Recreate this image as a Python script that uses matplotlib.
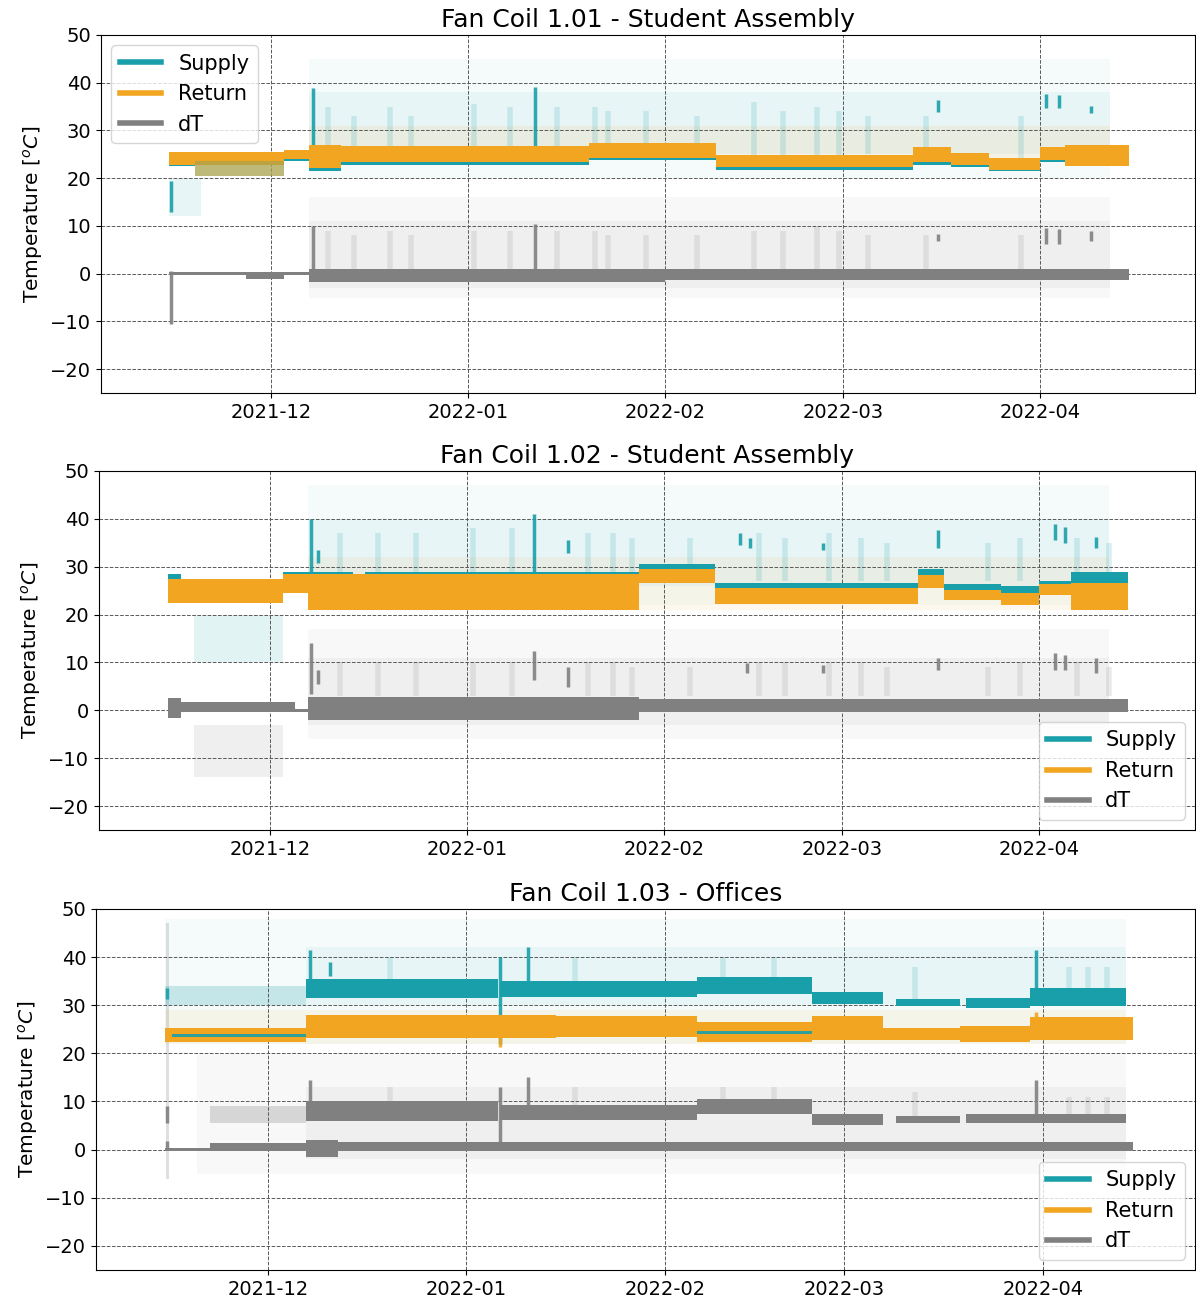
#!/usr/bin/env python3
"""Supply / return / dT temperatures of three fan coils, Nov 2021 - Apr 2022."""

import matplotlib

matplotlib.use("Agg")
import matplotlib.dates as mdates
import matplotlib.pyplot as plt
import pandas as pd
from matplotlib.lines import Line2D

COLORS = {"supply": "#189fa9", "return": "#f2a520", "dT": "#808080"}

# Dense part of each trace: (start, end, low degC, high degC)
fc101_supply = [
    ("2021-11-15", "2021-11-19", 22.5, 25.0),
    ("2021-12-03", "2021-12-07", 23.6, 25.0),
    ("2021-12-07", "2021-12-12", 21.5, 25.5),
    ("2021-12-12", "2022-01-20", 22.8, 25.5),
    ("2022-01-20", "2022-02-09", 23.8, 26.0),
    ("2022-02-09", "2022-03-12", 21.8, 24.0),
    ("2022-03-12", "2022-03-18", 22.8, 25.5),
    ("2022-03-18", "2022-03-24", 22.3, 24.5),
    ("2022-03-24", "2022-04-01", 21.4, 23.5),
    ("2022-04-01", "2022-04-05", 23.3, 25.5),
    ("2022-04-05", "2022-04-15", 23.5, 25.8),
]
fc101_return = [
    ("2021-11-15", "2021-12-03", 22.8, 25.5),
    ("2021-12-03", "2021-12-07", 24.0, 26.0),
    ("2021-12-07", "2021-12-12", 22.2, 27.0),
    ("2021-12-12", "2022-01-20", 23.3, 26.8),
    ("2022-01-20", "2022-02-09", 24.3, 27.3),
    ("2022-02-09", "2022-03-12", 22.3, 24.8),
    ("2022-03-12", "2022-03-18", 23.3, 26.5),
    ("2022-03-18", "2022-03-24", 22.8, 25.3),
    ("2022-03-24", "2022-04-01", 21.8, 24.3),
    ("2022-04-01", "2022-04-05", 23.8, 26.5),
    ("2022-04-05", "2022-04-15", 22.5, 27.0),
]
fc101_dt = [
    ("2021-11-15", "2021-11-27", -0.3, 0.3),
    ("2021-11-27", "2021-12-03", -1.2, 0.4),
    ("2021-12-03", "2021-12-07", -0.3, 0.3),
    ("2021-12-07", "2022-02-01", -1.8, 0.9),
    ("2022-02-01", "2022-04-15", -1.3, 0.9),
]
# Scattered readings: (series, start, end, low, high, alpha)
fc101_haze = [
    ("supply", "2021-11-15", "2021-11-20", 12.0, 20.0, 0.10),
    ("supply", "2021-12-07", "2022-04-12", 20.0, 45.0, 0.04),
    ("supply", "2021-12-07", "2022-04-12", 25.0, 38.0, 0.06),
    ("return", "2021-12-07", "2022-04-12", 24.0, 31.0, 0.10),
    ("dT", "2021-12-07", "2022-04-12", -5.0, 16.0, 0.05),
    ("dT", "2021-12-07", "2022-04-12", -3.0, 11.0, 0.07),
]
# Sparse mixed readings drawn over the bands, in order
fc101_tint = [
    ("supply", "2021-11-19", "2021-12-03", 20.5, 23.5, 0.5),
    ("return", "2021-11-19", "2021-12-03", 20.5, 23.5, 0.5),
]
# Short excursions: (series, time, low, high)
fc101_spikes = [
    ("supply", "2021-11-15 06:00", 13.0, 19.5),
    ("dT", "2021-11-15 06:00", -10.5, 0.5),
    ("supply", "2021-12-07 14:00", 26.0, 38.8),
    ("supply", "2022-01-11 12:00", 26.0, 39.0),
    ("supply", "2022-03-16", 33.8, 36.3),
    ("supply", "2022-04-02", 34.8, 37.7),
    ("supply", "2022-04-04", 34.8, 37.5),
    ("supply", "2022-04-09", 33.7, 35.2),
    ("dT", "2021-12-07 14:00", 1.0, 10.0),
    ("dT", "2022-01-11 12:00", 1.0, 10.5),
    ("dT", "2022-03-16", 6.9, 8.4),
    ("dT", "2022-04-02", 6.3, 9.6),
    ("dT", "2022-04-04", 6.3, 9.4),
    ("dT", "2022-04-09", 6.9, 9.0),
]
# Clusters of scattered readings: (series, time, low, high)
fc101_streaks = [
    ("dT", "2021-12-10", 1.0, 9.0), ("supply", "2021-12-10", 26.0, 35.0),
    ("dT", "2021-12-14", 1.0, 8.0), ("supply", "2021-12-14", 26.0, 33.0),
    ("dT", "2021-12-19 16:00", 1.0, 9.0), ("supply", "2021-12-19 16:00", 26.0, 35.0),
    ("dT", "2021-12-23", 1.0, 8.0), ("supply", "2021-12-23", 26.0, 33.0),
    ("dT", "2022-01-02", 1.0, 9.0), ("supply", "2022-01-02", 26.0, 35.5),
    ("dT", "2022-01-07 14:00", 1.0, 9.0), ("supply", "2022-01-07 14:00", 26.0, 35.0),
    ("dT", "2022-01-15", 1.0, 9.0), ("supply", "2022-01-15", 26.0, 35.0),
    ("dT", "2022-01-21", 1.0, 9.0), ("supply", "2022-01-21", 26.0, 35.0),
    ("dT", "2022-01-23", 1.0, 8.0), ("supply", "2022-01-23", 26.0, 34.0),
    ("dT", "2022-01-29", 1.0, 8.0), ("supply", "2022-01-29", 26.0, 34.0),
    ("dT", "2022-02-06", 1.0, 8.0), ("supply", "2022-02-06", 26.0, 33.0),
    ("dT", "2022-02-15", 1.0, 9.0), ("supply", "2022-02-15", 24.0, 36.0),
    ("dT", "2022-02-19 14:00", 1.0, 9.0), ("supply", "2022-02-19 14:00", 24.0, 34.0),
    ("dT", "2022-02-25", 1.0, 10.0), ("supply", "2022-02-25", 24.0, 35.0),
    ("dT", "2022-02-28 10:00", 1.0, 9.0), ("supply", "2022-02-28 10:00", 24.0, 34.0),
    ("dT", "2022-03-05", 1.0, 8.0), ("supply", "2022-03-05", 25.0, 33.0),
    ("dT", "2022-03-14", 1.0, 8.0), ("supply", "2022-03-14", 25.0, 33.0),
    ("dT", "2022-03-29", 1.0, 8.0), ("supply", "2022-03-29", 24.0, 33.0),
]

fc102_supply = [
    ("2021-11-15", "2021-11-17", 25.5, 28.5),
    ("2021-11-17", "2021-12-03", 25.0, 27.3),
    ("2021-12-03", "2021-12-07", 26.5, 29.0),
    ("2021-12-07", "2021-12-14", 24.0, 29.0),
    ("2021-12-14", "2021-12-16", 23.0, 26.5),
    ("2021-12-16", "2022-01-28", 26.5, 29.0),
    ("2022-01-28", "2022-02-09", 28.0, 30.5),
    ("2022-02-09", "2022-03-13", 24.6, 26.6),
    ("2022-03-13", "2022-03-17", 27.0, 29.5),
    ("2022-03-17", "2022-03-26", 24.6, 26.4),
    ("2022-03-26", "2022-04-01", 24.0, 26.0),
    ("2022-04-01", "2022-04-06", 25.0, 27.0),
    ("2022-04-06", "2022-04-15", 24.5, 28.8),
]
fc102_return = [
    ("2021-11-15", "2021-12-03", 22.5, 27.5),
    ("2021-12-03", "2021-12-07", 24.5, 28.5),
    ("2021-12-07", "2022-01-28", 21.0, 28.5),
    ("2022-01-28", "2022-02-09", 26.5, 29.5),
    ("2022-02-09", "2022-03-13", 22.3, 25.5),
    ("2022-03-13", "2022-03-17", 25.5, 28.3),
    ("2022-03-17", "2022-03-26", 23.0, 25.2),
    ("2022-03-26", "2022-04-01", 22.0, 24.6),
    ("2022-04-01", "2022-04-06", 24.0, 26.3),
    ("2022-04-06", "2022-04-15", 21.0, 26.5),
]
fc102_dt = [
    ("2021-11-15", "2021-11-17", -1.5, 2.5),
    ("2021-11-17", "2021-12-05", -0.3, 1.8),
    ("2021-12-05", "2021-12-07", -0.3, 0.3),
    ("2021-12-07", "2022-01-28", -2.0, 2.8),
    ("2022-01-28", "2022-04-15", -0.3, 2.3),
]
fc102_haze = [
    ("supply", "2021-11-19", "2021-12-03", 10.0, 20.0, 0.12),
    ("dT", "2021-11-19", "2021-12-03", -14.0, -3.0, 0.12),
    ("supply", "2021-12-07", "2022-04-12", 22.0, 47.0, 0.04),
    ("supply", "2021-12-07", "2022-04-12", 26.0, 40.0, 0.06),
    ("return", "2021-12-07", "2022-04-12", 21.0, 32.0, 0.08),
    ("dT", "2021-12-07", "2022-04-12", -6.0, 17.0, 0.05),
    ("dT", "2021-12-07", "2022-04-12", -3.0, 11.0, 0.07),
]
fc102_tint = []
fc102_spikes = [
    ("supply", "2021-12-07 12:00", 29.0, 40.0),
    ("supply", "2021-12-08 12:00", 30.7, 33.4),
    ("supply", "2022-01-11 14:00", 29.0, 41.0),
    ("supply", "2022-01-16 20:00", 32.8, 35.5),
    ("supply", "2022-02-13", 34.5, 37.0),
    ("supply", "2022-02-14 12:00", 34.0, 36.0),
    ("supply", "2022-02-26", 33.5, 35.0),
    ("supply", "2022-03-16", 34.0, 37.6),
    ("supply", "2022-04-03 10:00", 35.5, 39.0),
    ("supply", "2022-04-05", 35.0, 38.2),
    ("supply", "2022-04-10", 34.0, 36.2),
    ("dT", "2021-12-07 12:00", 3.5, 14.0),
    ("dT", "2021-12-08 12:00", 5.6, 8.4),
    ("dT", "2022-01-11 14:00", 6.3, 12.5),
    ("dT", "2022-01-16 20:00", 4.8, 9.0),
    ("dT", "2022-02-14", 7.7, 9.8),
    ("dT", "2022-02-26", 7.7, 9.5),
    ("dT", "2022-03-16", 8.4, 11.0),
    ("dT", "2022-04-03 10:00", 8.4, 12.0),
    ("dT", "2022-04-05", 8.4, 11.5),
    ("dT", "2022-04-10", 7.7, 11.0),
]
fc102_streaks = [
    ("dT", "2021-12-12", 3.0, 10.0), ("supply", "2021-12-12", 29.0, 37.0),
    ("dT", "2021-12-18", 3.0, 10.0), ("supply", "2021-12-18", 29.0, 37.0),
    ("dT", "2021-12-24", 3.0, 10.0), ("supply", "2021-12-24", 29.0, 37.0),
    ("dT", "2022-01-02", 3.0, 10.0), ("supply", "2022-01-02", 29.0, 38.0),
    ("dT", "2022-01-08", 3.0, 10.0), ("supply", "2022-01-08", 29.0, 38.0),
    ("dT", "2022-01-20", 3.0, 10.0), ("supply", "2022-01-20", 29.0, 37.0),
    ("dT", "2022-01-24", 3.0, 10.0), ("supply", "2022-01-24", 29.0, 37.0),
    ("dT", "2022-01-27", 3.0, 9.0), ("supply", "2022-01-27", 29.0, 36.0),
    ("dT", "2022-02-05", 3.0, 9.0), ("supply", "2022-02-05", 30.0, 36.0),
    ("dT", "2022-02-16", 3.0, 10.0), ("supply", "2022-02-16", 27.0, 37.0),
    ("dT", "2022-02-20", 3.0, 10.0), ("supply", "2022-02-20", 27.0, 36.0),
    ("dT", "2022-02-27", 3.0, 10.0), ("supply", "2022-02-27", 27.0, 37.0),
    ("dT", "2022-03-04", 3.0, 10.0), ("supply", "2022-03-04", 27.0, 36.0),
    ("dT", "2022-03-08", 3.0, 9.0), ("supply", "2022-03-08", 27.0, 35.0),
    ("dT", "2022-03-24", 3.0, 9.0), ("supply", "2022-03-24", 27.0, 35.0),
    ("dT", "2022-03-29", 3.0, 10.0), ("supply", "2022-03-29", 27.0, 36.0),
    ("dT", "2022-04-07", 3.0, 10.0), ("supply", "2022-04-07", 27.0, 36.0),
    ("dT", "2022-04-12", 3.0, 9.0), ("supply", "2022-04-12", 27.0, 35.0),
]

fc103_supply = [
    ("2021-12-07", "2022-01-06", 31.5, 35.5),
    ("2022-01-06 06:00", "2022-02-06", 31.8, 35.0),
    ("2022-02-06", "2022-02-24", 32.3, 35.8),
    ("2022-02-24", "2022-03-07", 30.3, 32.8),
    ("2022-03-09", "2022-03-19", 29.8, 31.3),
    ("2022-03-20", "2022-03-30", 29.5, 31.5),
    ("2022-03-30", "2022-04-14", 29.8, 33.5),
]
fc103_return = [
    ("2021-11-15", "2021-12-07", 22.3, 25.3),
    ("2021-12-07", "2022-01-15", 23.2, 28.0),
    ("2022-01-15", "2022-02-06", 23.5, 27.8),
    ("2022-02-06", "2022-02-24", 22.3, 26.6),
    ("2022-02-24", "2022-03-07", 22.8, 27.8),
    ("2022-03-07", "2022-03-19", 22.8, 25.3),
    ("2022-03-19", "2022-03-30", 22.3, 25.6),
    ("2022-03-30", "2022-04-15", 22.8, 27.5),
]
fc103_dt = [
    ("2021-11-15", "2021-11-22", -0.3, 0.3),
    ("2021-11-22", "2021-12-07", -0.2, 1.3),
    ("2021-12-07", "2021-12-12", -1.5, 2.0),
    ("2021-12-12", "2022-04-15", -0.3, 1.6),
    ("2021-12-07", "2022-01-06", 6.0, 10.0),
    ("2022-01-06 06:00", "2022-02-06", 6.2, 9.2),
    ("2022-02-06", "2022-02-24", 7.3, 10.5),
    ("2022-02-24", "2022-03-07", 5.2, 7.3),
    ("2022-03-09", "2022-03-19", 5.5, 7.0),
    ("2022-03-20", "2022-04-14", 5.5, 7.5),
]
fc103_haze = [
    ("dT", "2021-11-15 03:00", "2021-11-15 12:00", -6.0, 47.0, 0.25),
    ("supply", "2021-11-15", "2021-12-07", 30.0, 34.0, 0.22),
    ("dT", "2021-11-22", "2021-12-07", 5.5, 9.0, 0.28),
    ("supply", "2021-11-15", "2022-04-14", 22.0, 48.0, 0.04),
    ("supply", "2021-12-07", "2022-04-14", 30.0, 42.0, 0.06),
    ("return", "2021-11-15", "2022-04-14", 22.0, 29.0, 0.08),
    ("dT", "2021-11-20", "2022-04-14", -5.0, 20.0, 0.05),
    ("dT", "2021-12-07", "2022-04-14", -2.0, 13.0, 0.07),
]
fc103_tint = [
    ("supply", "2021-11-16", "2021-12-07", 23.5, 24.1, 0.9),
    ("supply", "2022-02-06", "2022-02-24", 24.0, 24.6, 0.9),
]
fc103_spikes = [
    ("supply", "2021-11-15 06:00", 31.2, 33.6),
    ("dT", "2021-11-15 06:00", 5.6, 9.0),
    ("dT", "2021-11-15 06:00", 0.0, 1.7),
    ("supply", "2021-12-07 12:00", 32.6, 41.5),
    ("supply", "2021-12-10 18:00", 36.0, 39.0),
    ("supply", "2022-01-06 06:00", 22.0, 40.0),
    ("return", "2022-01-06 06:00", 21.3, 27.0),
    ("supply", "2022-01-10 14:00", 35.0, 42.0),
    ("supply", "2022-03-30 22:00", 33.0, 41.5),
    ("return", "2022-03-30 22:00", 25.0, 28.5),
    ("dT", "2021-12-07 12:00", 6.9, 14.5),
    ("dT", "2022-01-06 06:00", 0.0, 13.0),
    ("dT", "2022-01-10 14:00", 9.0, 15.0),
    ("dT", "2022-03-30 22:00", 7.0, 14.5),
]
fc103_streaks = [
    ("supply", "2021-12-20", 35.0, 40.0), ("dT", "2021-12-20", 9.0, 13.0),
    ("supply", "2022-01-18", 35.0, 40.0), ("dT", "2022-01-18", 9.0, 13.0),
    ("supply", "2022-02-10", 35.0, 40.0), ("dT", "2022-02-10", 10.0, 13.0),
    ("supply", "2022-02-18", 35.0, 40.0), ("dT", "2022-02-18", 10.0, 13.0),
    ("supply", "2022-03-12", 31.0, 38.0), ("dT", "2022-03-12", 7.0, 12.0),
    ("supply", "2022-04-05", 33.0, 38.0), ("dT", "2022-04-05", 7.5, 11.0),
    ("supply", "2022-04-08", 33.0, 38.0), ("dT", "2022-04-08", 7.5, 11.0),
    ("supply", "2022-04-11", 33.0, 38.0), ("dT", "2022-04-11", 7.5, 11.0),
]

titles = [
    "Fan Coil 1.01 - Student Assembly",
    "Fan Coil 1.02 - Student Assembly",
    "Fan Coil 1.03 - Offices",
]
legend_locs = ["upper left", "lower right", "lower right"]
y_ticks = [-20, -10, 0, 10, 20, 30, 40, 50]

# axes rectangles in figure fractions and the visible time window per panel
axes_rects = [
    (0.0845, 0.6977, 0.9147, 0.2754),
    (0.0828, 0.3615, 0.9164, 0.2762),
    (0.0803, 0.0231, 0.9189, 0.2777),
]
x_windows = [
    ("2021-11-04 06:00", "2022-04-25 10:00"),
    ("2021-11-04 03:00", "2022-04-25 12:00"),
    ("2021-11-04 04:00", "2022-04-24 18:00"),
]


def to_time(s):
    return pd.Timestamp(s).to_pydatetime()


def draw_bars(ax, rows, color, alpha, zorder):
    if not rows:
        return
    start = [to_time(r[0]) for r in rows]
    width = [to_time(r[1]) - to_time(r[0]) for r in rows]
    low = [r[2] for r in rows]
    height = [r[3] - r[2] for r in rows]
    ax.bar(start, height, width=width, bottom=low, align="edge",
           color=color, alpha=alpha, linewidth=0, zorder=zorder)


def draw_scatter(ax, rows, zorder):
    for series, s, e, lo, hi, alpha in rows:
        draw_bars(ax, [(s, e, lo, hi)], COLORS[series], alpha, zorder)


def draw_vertical(ax, rows, lw, alpha, zorder):
    for series, t, lo, hi in rows:
        ax.vlines(to_time(t), lo, hi, colors=COLORS[series], linewidth=lw,
                  alpha=alpha, zorder=zorder)


panels = [
    (fc101_supply, fc101_return, fc101_dt, fc101_haze, fc101_tint, fc101_spikes, fc101_streaks),
    (fc102_supply, fc102_return, fc102_dt, fc102_haze, fc102_tint, fc102_spikes, fc102_streaks),
    (fc103_supply, fc103_return, fc103_dt, fc103_haze, fc103_tint, fc103_spikes, fc103_streaks),
]

fig = plt.figure(figsize=(11.96, 13.0), dpi=100)

for i, (supply, ret, dt, haze, tint, spikes, streaks) in enumerate(panels):
    ax = fig.add_axes(axes_rects[i])

    draw_scatter(ax, haze, zorder=1)
    draw_vertical(ax, streaks, lw=4, alpha=0.16, zorder=1.2)
    draw_bars(ax, supply, COLORS["supply"], 1.0, 3)
    draw_bars(ax, dt, COLORS["dT"], 1.0, 3)
    draw_vertical(ax, spikes, lw=2.5, alpha=0.9, zorder=3.5)
    draw_bars(ax, ret, COLORS["return"], 1.0, 4)
    draw_scatter(ax, tint, zorder=4.5)

    ax.set_xlim(to_time(x_windows[i][0]), to_time(x_windows[i][1]))
    ax.set_ylim(-25, 50)
    ax.set_yticks(y_ticks)
    ax.xaxis.set_major_locator(mdates.MonthLocator())
    ax.xaxis.set_major_formatter(mdates.DateFormatter("%Y-%m"))
    ax.tick_params(labelsize=14)
    ax.grid(True, linestyle="--", color="0.35", linewidth=0.7)

    ax.set_title(titles[i], fontsize=18)
    ax.set_ylabel(r"Temperature [$^oC$]", fontsize=14.5)

    handles = [Line2D([], [], color=COLORS[k], linewidth=4) for k in ("supply", "return", "dT")]
    ax.legend(handles, ["Supply", "Return", "dT"], loc=legend_locs[i], fontsize=15)

fig.savefig("out.png", dpi=100)
plt.close(fig)
